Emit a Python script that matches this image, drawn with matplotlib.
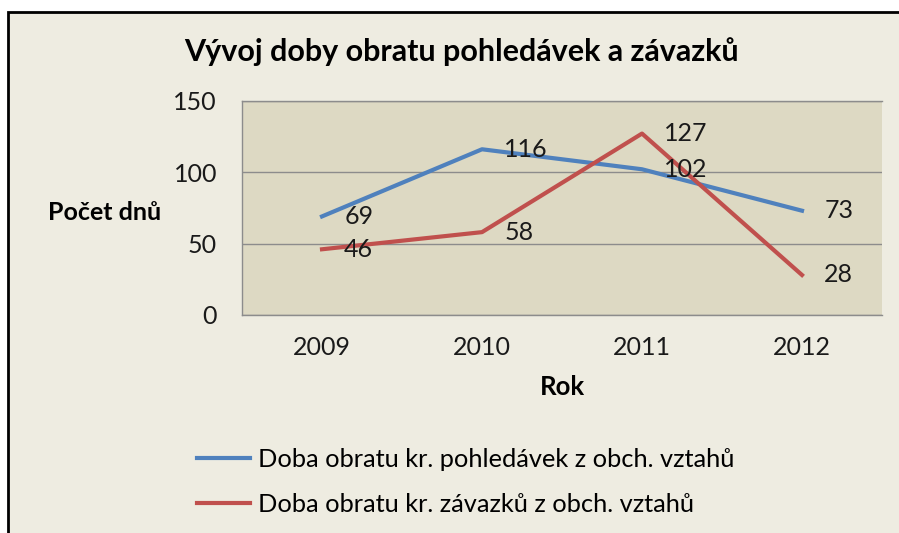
import matplotlib
matplotlib.use("agg")
from matplotlib import pyplot as plt
from matplotlib.patches import Rectangle

years = ["2009", "2010", "2011", "2012"]
receivables = [69, 116, 102, 73]
payables = [46, 58, 127, 28]
series_names = [
    "Doba obratu kr. pohledávek z obch. vztahů",
    "Doba obratu kr. závazků z obch. vztahů",
]
title = "Vývoj doby obratu pohledávek a závazků"
x_label = "Rok"
y_label = "Počet dnů"

blue = "#4F81BD"
red = "#C0504D"
outer_bg = "#EEECE1"
plot_bg = "#DDD9C3"
grid_col = "#8C8C8C"

plt.rcParams["font.family"] = ["Lato", "DejaVu Sans"]

W, H = 899, 533
fig = plt.figure(figsize=(W / 100, H / 100), dpi=100)
fig.patch.set_facecolor("white")

# chart frame (cropped on right and bottom)
fig.patches.append(Rectangle((8 / W, -0.5), 2.0, (H - 12) / H + 0.5,
                             transform=fig.transFigure, facecolor=outer_bg,
                             edgecolor="black", linewidth=2, zorder=-10))

ax = fig.add_axes([242 / W, (H - 315) / H, (882 - 242) / W, (315 - 100.7) / H])
ax.set_facecolor(plot_bg)

x = list(range(len(years)))
ax.plot(x, receivables, color=blue, lw=3, label=series_names[0], zorder=3)
ax.plot(x, payables, color=red, lw=3, label=series_names[1], zorder=3)

for series in (receivables, payables):
    for xi, v in zip(x, series):
        ax.annotate(str(v), (xi, v), xytext=(16, 0), textcoords="offset points",
                    ha="left", va="center", fontsize=18, color="#1a1a1a", zorder=4)

ax.set_xlim(-0.5, 3.5)
ax.set_ylim(0, 150)
ax.set_yticks([0, 50, 100, 150])
ax.set_xticks(x)
ax.set_xticklabels(years)
ax.yaxis.grid(True, color=grid_col, lw=1)
ax.set_axisbelow(True)
ax.tick_params(axis="both", length=0, labelsize=18, labelcolor="#1a1a1a")
ax.tick_params(axis="y", pad=18)
ax.tick_params(axis="x", pad=15)
ax.spines["right"].set_visible(False)
for side in ("left", "bottom", "top"):
    ax.spines[side].set_color(grid_col)
    ax.spines[side].set_linewidth(1)

fig.text(461 / W, 1 - 52 / H, title, ha="center", va="center",
         fontsize=22, fontweight="bold")
fig.text(105 / W, 1 - 212 / H, y_label, ha="center", va="center",
         fontsize=18, fontweight="bold")
fig.text(562 / W, 1 - 387 / H, x_label, ha="center", va="center",
         fontsize=18.5, fontweight="bold")

fig.legend(loc="upper left", bbox_to_anchor=(197 / W, 1 - 448 / H),
           frameon=False, fontsize=18.3, handlelength=2.1, handletextpad=0.3,
           labelspacing=0.85, borderpad=0, borderaxespad=0)

fig.savefig("out.png", dpi=100)
